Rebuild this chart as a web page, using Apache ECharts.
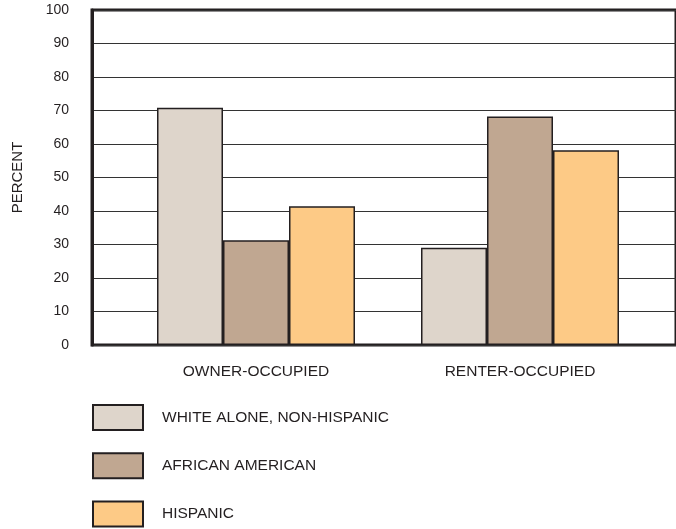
<!DOCTYPE html>
<html>
<head>
<meta charset="utf-8">
<script src="https://cdn.jsdelivr.net/npm/echarts@6/dist/echarts.min.js"></script>
<style>html,body{margin:0;padding:0;background:#fff;}#c{width:676px;height:529px;}</style>
</head>
<body>
<div id="c"></div>
<script>
var categories = ['OWNER-OCCUPIED', 'RENTER-OCCUPIED'];
var seriesNames = ['WHITE ALONE, NON-HISPANIC', 'AFRICAN AMERICAN', 'HISPANIC'];
var whiteAlone = [70.8, 29.0];
var africanAmerican = [31.3, 68.2];
var hispanic = [41.4, 58.1];
var yTicks = [0, 10, 20, 30, 40, 50, 60, 70, 80, 90, 100];

var colors = ['#DED5CB', '#C0A791', '#FDCA86'];
var ink = '#231F20';
var font = 'Liberation Sans, Arial, sans-serif';

var chart = echarts.init(document.getElementById('c'), null, {renderer: 'canvas'});
var values = [whiteAlone, africanAmerican, hispanic];
var series = seriesNames.map(function (n, i) {
  return {
    name: n, type: 'bar', xAxisIndex: 1, yAxisIndex: 1,
    data: values[i], barWidth: 66, barGap: '0%',
    itemStyle: {color: colors[i], borderColor: ink, borderWidth: 1.5},
    emphasis: {disabled: true}, animation: false
  };
});

chart.setOption({
  animation: false,
  textStyle: {fontFamily: font},
  grid: [
    {left: 92, top: 10, width: 640, bottom: 184, show: true, borderColor: ink, borderWidth: 3, backgroundColor: 'transparent'},
    {left: 124, width: 528, top: 10, bottom: 184}
  ],
  xAxis: [
    {type: 'value', gridIndex: 0, show: false, min: 0, max: 1},
    {type: 'category', gridIndex: 1, data: categories,
     axisLine: {show: false}, axisTick: {show: false},
     axisLabel: {color: ink, fontSize: 15.5, margin: 19, fontFamily: font}}
  ],
  yAxis: [
    {type: 'value', gridIndex: 0, min: yTicks[0], max: yTicks[yTicks.length - 1], interval: 10,
     name: 'PERCENT', nameLocation: 'middle', nameRotate: 90, nameGap: 67,
     nameTextStyle: {color: ink, fontSize: 15, fontFamily: font},
     axisLine: {show: true, lineStyle: {color: ink, width: 3}},
     axisTick: {show: false},
     axisLabel: {color: ink, fontSize: 14, margin: 23, fontFamily: font},
     splitLine: {show: true, lineStyle: {color: '#333', width: 1}}},
    {type: 'value', gridIndex: 1, min: 0, max: 100, show: false, splitLine: {show: false}}
  ],
  legend: {
    data: seriesNames, orient: 'vertical', left: 92, top: 404, height: 124, width: 400,
    itemWidth: 50, itemHeight: 25, itemGap: 21.3, padding: 0, icon: 'rect',
    selectedMode: false,
    textStyle: {color: ink, fontSize: 15.5, fontFamily: font, padding: [0, 0, 0, 14]}
  },
  series: series
});
</script>
</body>
</html>
